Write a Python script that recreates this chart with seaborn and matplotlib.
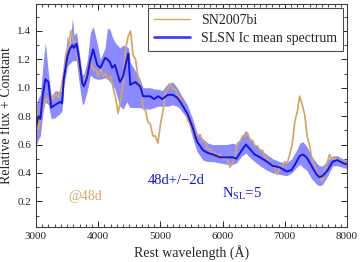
import numpy as np
import pandas as pd
import matplotlib
matplotlib.use("Agg")
import matplotlib.pyplot as plt
import seaborn as sns
from matplotlib.ticker import MultipleLocator
from matplotlib.lines import Line2D

# ---------------- data ----------------
sn_wave = np.arange(3000, 8001, 40)
sn_flux = [
    0.93, 0.70, 0.84, 0.86, 0.93, 0.90, 0.95, 0.92, 0.96, 0.93,
    0.99, 1.08, 1.24, 1.28, 1.40, 1.33, 1.32, 1.18, 1.09, 1.01,
    1.09, 1.12, 1.18, 1.13, 1.13, 1.08, 1.13, 1.08, 1.10, 1.06,
    1.08, 1.00, 0.93, 0.82, 0.91, 1.03, 1.27, 1.36, 1.40, 1.23,
    1.20, 1.08, 1.02, 0.86, 0.84, 0.76, 0.74, 0.66, 0.66, 0.61,
    0.74, 0.83, 0.97, 0.99, 1.03, 0.99, 0.99, 0.94, 0.93, 0.86,
    0.85, 0.77, 0.74, 0.69, 0.68, 0.66, 0.67, 0.62, 0.62, 0.57,
    0.57, 0.53, 0.54, 0.51, 0.53, 0.50, 0.51, 0.49, 0.44, 0.47,
    0.51, 0.61, 0.62, 0.66, 0.66, 0.68, 0.63, 0.63, 0.59, 0.59,
    0.56, 0.56, 0.51, 0.51, 0.46, 0.46, 0.43, 0.39, 0.45, 0.44,
    0.48, 0.47, 0.53, 0.60, 0.76, 0.83, 0.94, 0.88, 0.81, 0.66,
    0.59, 0.49, 0.45, 0.39, 0.38, 0.34, 0.41, 0.47, 0.53, 0.49,
    0.51, 0.48, 0.50, 0.47, 0.48, 0.45,
]

mean_wave = [3000, 3040, 3070, 3110, 3150, 3200, 3245, 3310, 3390, 3420,
             3445, 3505, 3540, 3585, 3610, 3650, 3680, 3745, 3770, 3825,
             3875, 3920, 3985, 4035, 4110, 4150, 4190, 4225, 4270, 4350,
             4400, 4460, 4485, 4515, 4595, 4675, 4720, 4835, 4900, 4965,
             5030, 5120, 5200, 5270, 5320, 5430, 5510, 5590, 5685, 5765,
             5845, 5955, 6070, 6165, 6220, 6310, 6375, 6435, 6515, 6600,
             6710, 6805, 6915, 7030, 7110, 7190, 7240, 7290, 7350, 7430,
             7510, 7560, 7610, 7690, 7770, 7850, 7930, 8000]
mean_flux = [0.72, 0.80, 0.78, 0.95, 1.06, 1.04, 0.86, 0.88, 0.90, 0.89,
             1.06, 1.22, 1.27, 1.30, 1.28, 1.31, 1.24, 1.03, 1.01, 1.08,
             1.20, 1.27, 1.16, 1.14, 1.21, 1.20, 1.18, 1.14, 1.16, 1.04,
             1.08, 1.20, 1.24, 1.02, 1.04, 1.01, 0.94, 0.94, 0.92, 0.94,
             0.92, 0.95, 0.95, 0.93, 0.90, 0.82, 0.73, 0.62, 0.56, 0.54,
             0.53, 0.51, 0.51, 0.51, 0.50, 0.56, 0.60, 0.57, 0.53, 0.51,
             0.48, 0.45, 0.44, 0.41, 0.42, 0.48, 0.52, 0.53, 0.51, 0.45,
             0.39, 0.37, 0.38, 0.42, 0.48, 0.49, 0.47, 0.46]
mean_lo = [0.59, 0.64, 0.66, 0.82, 0.90, 0.88, 0.78, 0.79, 0.82, 0.84,
           1.00, 1.15, 1.17, 1.19, 1.19, 1.19, 1.08, 0.88, 0.89, 0.98,
           1.09, 1.07, 1.06, 1.06, 1.07, 1.06, 1.04, 1.02, 0.99, 0.87,
           0.85, 0.90, 0.88, 0.86, 0.86, 0.86, 0.85, 0.85, 0.86, 0.87,
           0.87, 0.87, 0.88, 0.87, 0.85, 0.78, 0.66, 0.55, 0.49, 0.48,
           0.48, 0.47, 0.46, 0.46, 0.47, 0.52, 0.54, 0.51, 0.48, 0.45,
           0.42, 0.40, 0.39, 0.38, 0.40, 0.44, 0.46, 0.44, 0.42, 0.36,
           0.32, 0.31, 0.32, 0.38, 0.45, 0.45, 0.44, 0.43]
mean_hi = [0.87, 0.93, 0.95, 1.15, 1.32, 1.10, 0.94, 0.98, 0.97, 0.99,
           1.12, 1.37, 1.29, 1.49, 1.37, 1.39, 1.30, 1.09, 1.10, 1.19,
           1.39, 1.43, 1.31, 1.20, 1.28, 1.42, 1.41, 1.36, 1.32, 1.28,
           1.30, 1.29, 1.28, 1.18, 1.12, 1.06, 1.00, 1.00, 0.99, 0.99,
           0.98, 1.03, 1.04, 1.00, 0.96, 0.88, 0.79, 0.68, 0.64, 0.61,
           0.60, 0.60, 0.60, 0.61, 0.60, 0.66, 0.70, 0.65, 0.60, 0.57,
           0.53, 0.50, 0.48, 0.47, 0.50, 0.56, 0.61, 0.62, 0.59, 0.52,
           0.47, 0.45, 0.45, 0.49, 0.52, 0.52, 0.50, 0.49]

# ---------------- style ----------------
TAN = "#d4a666"
BLUE = "#1515e0"
BAND = "#6464ff"

sns.set_style("ticks")
plt.rcParams["font.family"] = ["Liberation Serif", "DejaVu Serif"]
plt.rcParams["mathtext.fontset"] = "custom"
plt.rcParams["mathtext.rm"] = "Liberation Serif"
plt.rcParams["mathtext.it"] = "Liberation Serif:italic"

fig = plt.figure(figsize=(3.61, 2.62), dpi=100)
ax = fig.add_axes([0.0997, 0.134, 0.8615, 0.851])

sn_df = pd.DataFrame({"wave": sn_wave, "flux": sn_flux})
mean_df = pd.DataFrame({"wave": mean_wave, "flux": mean_flux,
                        "lo": mean_lo, "hi": mean_hi})

sns.lineplot(data=sn_df, x="wave", y="flux", color=TAN, lw=1.25, ax=ax,
             legend=False)
ax.fill_between(mean_df["wave"], mean_df["lo"], mean_df["hi"],
                color=BAND, alpha=0.75, lw=0)
sns.lineplot(data=mean_df, x="wave", y="flux", color=BLUE, lw=1.4, ax=ax,
             legend=False)

ax.set_xlim(3000, 8000)
ax.set_ylim(0.02, 1.59)
ax.xaxis.set_major_locator(MultipleLocator(1000))
ax.xaxis.set_minor_locator(MultipleLocator(100))
ax.yaxis.set_major_locator(MultipleLocator(0.2))
ax.yaxis.set_minor_locator(MultipleLocator(0.1))
ax.tick_params(which="both", direction="in", top=True, right=True,
               labelsize=8, colors="0.15")
ax.tick_params(which="major", length=4, width=0.7)
ax.tick_params(which="minor", length=2, width=0.6)
for s in ax.spines.values():
    s.set_color("0.25")
    s.set_linewidth(0.8)

ax.set_xlabel("Rest wavelength (Å)", fontsize=10, labelpad=3)
ax.set_ylabel("Relative flux + Constant", fontsize=10, labelpad=3)

ax.text(3520, 0.235, "@48d", color=TAN, fontsize=10, va="center")
ax.text(4790, 0.345, "48d+/\u22122d", color=BLUE, fontsize=10.5, va="center")
ax.text(5990, 0.25, r"N$_{\mathrm{SL}}$=5", color=BLUE, fontsize=10.5,
        va="center")

handles = [Line2D([], [], color=TAN, lw=1.0),
           Line2D([], [], color="#4040ff", lw=2.0)]
ax.legend(handles, ["SN2007bi", "SLSN Ic mean spectrum"], loc="upper right",
          fontsize=10, frameon=True, fancybox=False, edgecolor="0.3",
          framealpha=1, handlelength=2.6, borderaxespad=0.3,
          borderpad=0.4, labelspacing=0.4)
ax.get_legend().get_frame().set_linewidth(0.8)

fig.savefig("out.png", dpi=100)
